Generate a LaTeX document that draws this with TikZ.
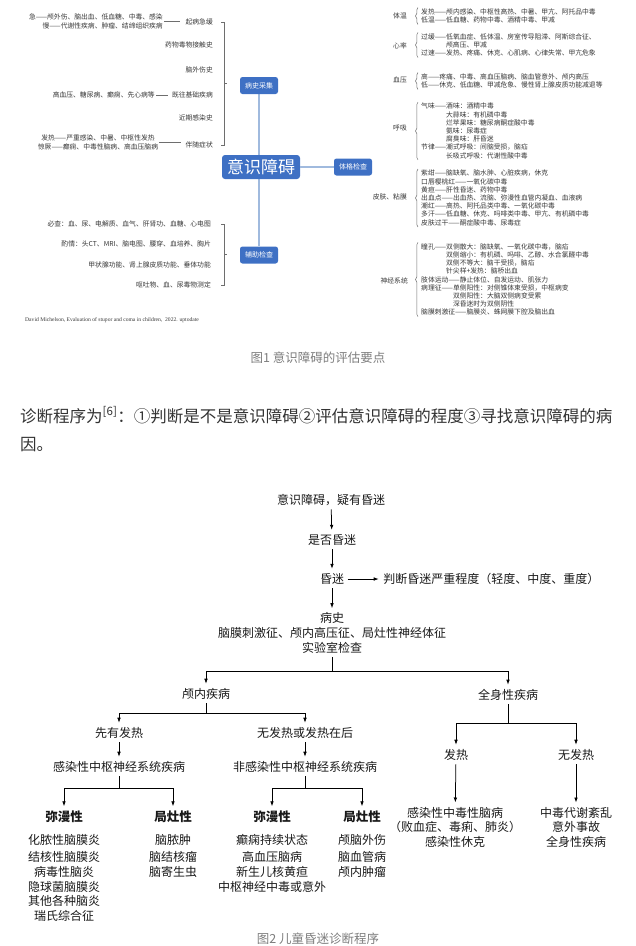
\documentclass[tikz,border=0pt]{standalone}
\usepackage{fontspec}
\setmainfont{Noto Sans CJK SC}
\newfontfamily\citefont{Liberation Serif}
\usetikzlibrary{arrows.meta,positioning,calc,backgrounds,decorations.pathreplacing}
\definecolor{mapblue}{RGB}{62,112,196}
\definecolor{mapline}{RGB}{160,186,222}
\definecolor{maptext}{RGB}{55,55,55}
\definecolor{mapgray}{RGB}{110,110,110}
\definecolor{captgray}{RGB}{125,125,125}
\definecolor{bodytext}{RGB}{51,51,51}
\definecolor{flowtext}{RGB}{25,25,25}
\newcommand{\mmfont}{\fontsize{6.8}{8.2}\selectfont}
\newcommand{\flfont}{\fontsize{12}{14.6}\selectfont}

\begin{document}
\begin{tikzpicture}[
  x=1pt,y=-1pt,
  hub/.style={fill=mapblue,rounded corners=3pt,text=white,font=\fontsize{17}{17}\selectfont,minimum width=78pt,minimum height=24pt,inner sep=0pt},
  branch/.style={fill=mapblue,rounded corners=2.5pt,text=white,font=\fontsize{7}{7}\selectfont,minimum width=38pt,minimum height=17pt,inner sep=0pt},
  leaf/.style={text=maptext,font=\mmfont,inner sep=1pt,align=left},
  link/.style={draw=mapline,line width=1.1pt},
  brk/.style={draw=mapgray,line width=0.5pt},
  brc/.style={draw=mapgray,line width=0.5pt,decorate,decoration={brace,amplitude=2.5pt}},
  flow/.style={text=flowtext,font=\flfont,align=center,inner sep=1.5pt},
  grp/.style={flow,font=\fontsize{12.5}{14}\selectfont\bfseries},
  capt/.style={text=captgray,font=\fontsize{12.5}{14}\selectfont,inner sep=0pt},
  arr/.style={-{Latex[length=5pt,width=3.6pt]},line width=0.75pt,shorten >=3pt,shorten <=2pt},
  ln/.style={line width=0.75pt,shorten <=2pt}
]
\useasboundingbox (0,0) rectangle (636,946);

% mind map
\node[hub] (mmcoma) at (261,167) {意识障碍};
\node[branch] (mmhist) at (259,85.5) {病史采集};
\node[branch] (mmexam) at (353,167) {体格检查};
\node[branch] (mmaux) at (259,255) {辅助检查};
\begin{scope}[on background layer]
\draw[link] (mmhist) -- (mmaux);
\end{scope}
\draw[link] (mmcoma) -- (mmexam);

\node[leaf,anchor=east] (onset) at (214,22) {起病急缓};
\node[leaf,anchor=east,align=right] (onsetd) at (164,21.5) {急——颅外伤、脑出血、低血糖、中毒、感染\\慢——代谢性疾病、肿瘤、结缔组织疾病};
\node[leaf,anchor=east] (drug) at (214,45) {药物毒物接触史};
\node[leaf,anchor=east] (trauma) at (214,70) {脑外伤史};
\node[leaf,anchor=east] (pmh) at (214,95) {既往基础疾病};
\node[leaf,anchor=east] (pmhd) at (156,95) {高血压、糖尿病、癫痫、先心病等};
\node[leaf,anchor=east] (infect) at (214,118) {近期感染史};
\node[leaf,anchor=east] (symp) at (214,145) {伴随症状};
\node[leaf,align=center] (sympd) at (98,142.5) {发热——严重感染、中暑、中枢性发热\\惊厥——癫痫、中毒性脑病、高血压脑病};
\draw[brk,shorten >=4pt] (onsetd.east) -- (onsetd.east -| onset.west);
\draw[brk,shorten >=3pt] (pmhd.east) -- (pmh.west);
\draw[brk,shorten >=3pt] (sympd.east) -- (sympd.east -| symp.west);
\draw[brk] ([xshift=7pt]onset.east) -- ++(3,0) |- ([xshift=7pt]symp.east);
\draw[brk] ($(onset.east)!0.5!(symp.east)+(10,0)$) -- ++(3,0);

\node[leaf,anchor=east] (aux1) at (212,224) {必查：血、尿、电解质、血气、肝肾功、血糖、心电图};
\node[leaf,anchor=east] (aux2) at (212,244) {酌情：头CT、MRI、脑电图、腰穿、血培养、胸片};
\node[leaf,anchor=east] (aux3) at (212,265) {甲状腺功能、肾上腺皮质功能、垂体功能};
\node[leaf,anchor=east] (aux4) at (212,285) {呕吐物、血、尿毒物测定};
\draw[brk] ([xshift=9pt]aux1.east) -- ++(3,0) |- ([xshift=9pt]aux4.east);
\draw[brk] ($(aux1.east)!0.5!(aux4.east)+(12,0)$) -- ++(3,0);

\node[anchor=west,inner sep=0pt,text=maptext,font=\citefont\fontsize{5.6}{6}\selectfont] (cite) at (25,320) {David Michelson, Evaluation of stupor and coma in children,\ \ 2022. uptodate};

\node[leaf,anchor=east] (temp) at (408,16) {体温};
\node[leaf,anchor=west] (tempd) at (420,16) {发热——颅内感染、中枢性高热、中暑、甲亢、阿托品中毒\\低温——低血糖、药物中毒、酒精中毒、甲减};
\node[leaf,anchor=east] (pulse) at (408,46) {心率};
\node[leaf,anchor=west] (pulsed) at (420,45) {过缓——低氧血症、低体温、房室传导阻滞、阿斯综合征、\\\hphantom{过缓——}颅高压、甲减\\过速——发热、疼痛、休克、心肌病、心律失常、甲亢危象};
\node[leaf,anchor=east] (bp) at (408,80) {血压};
\node[leaf,anchor=west] (bpd) at (420,81) {高——疼痛、中毒、高血压脑病、脑血管意外、颅内高压\\低——休克、低血糖、甲减危象、慢性肾上腺皮质功能减退等};
\node[leaf,anchor=east] (resp) at (408,128) {呼吸};
\node[leaf,anchor=west] (respd) at (420,131) {气味——酒味：酒精中毒\\\hphantom{气味——}大蒜味：有机磷中毒\\\hphantom{气味——}烂苹果味：糖尿病酮症酸中毒\\\hphantom{气味——}氨味：尿毒症\\\hphantom{气味——}腐臭味：肝昏迷\\节律——潮式呼吸：间脑受损，脑疝\\\hphantom{节律——}长吸式呼吸：代谢性酸中毒};
\node[leaf,anchor=east] (skin) at (408,197) {皮肤、粘膜};
\node[leaf,anchor=west] (skind) at (420,198) {紫绀——脑缺氧、脑水肿、心脏疾病，休克\\口唇樱桃红——一氧化碳中毒\\黄疸——肝性昏迷、药物中毒\\出血点——出血热、流脑、弥漫性血管内凝血、血液病\\潮红——高热、阿托品类中毒、一氧化碳中毒\\多汗——低血糖、休克、吗啡类中毒、甲亢、有机磷中毒\\皮肤过干——酮症酸中毒、尿毒症};
\node[leaf,anchor=east] (neuro) at (409,281) {神经系统};
\node[leaf,anchor=west] (neurod) at (420,279.5) {瞳孔——双侧散大：脑缺氧、一氧化碳中毒，脑疝\\\hphantom{瞳孔——}双侧缩小：有机磷、吗啡、乙醇、水合氯醛中毒\\\hphantom{瞳孔——}双侧不等大：脑干受损，脑疝\\\hphantom{瞳孔——}针尖样+发热：脑桥出血\\肢体运动——静止体位、自发运动、肌张力\\病理征——单侧阳性：对侧锥体束受损，中枢病变\\\hphantom{病理征——}双侧阳性：大脑双侧病变受累\\\hphantom{病理征——}深昏迷时为双侧阴性\\脑膜刺激征——脑膜炎、蛛网膜下腔及脑出血};
\foreach \d in {tempd,pulsed,bpd,respd,skind,neurod}
  \draw[brc] ([xshift=-2pt]\d.south west) -- ([xshift=-2pt]\d.north west);

% text
\node[capt] (cap1) at (318,358) {图1 意识障碍的评估要点};
\node[anchor=west,inner sep=0pt,text=bodytext,font=\fontsize{16.5}{20}\selectfont] (para1) at (20,415) {诊断程序为\textsuperscript{[6]}：①判断是不是意识障碍②评估意识障碍的程度③寻找意识障碍的病};
\node[anchor=west,inner sep=0pt,text=bodytext,font=\fontsize{16.5}{20}\selectfont] (para2) at (20,445) {因。};

% flow chart
\node[flow] (susp) at (331,500) {意识障碍，疑有昏迷};
\node[flow] (isc) at (332,540) {是否昏迷};
\node[flow] (cma) at (332,579) {昏迷};
\node[flow,right=36pt of cma] (grade) {判断昏迷严重程度（轻度、中度、重度）};
\node[flow] (work) at (332,633) {病史\\脑膜刺激征、颅内高压征、局灶性神经体征\\实验室检查};
\coordinate (j0) at (332,671);
\node[flow] (intra) at (206,694) {颅内疾病};
\node[flow] (sys) at (508,695) {全身性疾病};
\coordinate (j1) at (206,713);
\node[flow] (fev) at (119,733) {先有发热};
\node[flow] (nofev) at (305,733) {无发热或发热在后};
\node[flow] (inf) at (119,767) {感染性中枢神经系统疾病};
\node[flow] (noninf) at (305,767) {非感染性中枢神经系统疾病};
\coordinate (j2) at (119,788);
\coordinate (j3) at (305,788);
\node[grp] (difa) at (64,817) {弥漫性};
\node[grp] (foca) at (173,817) {局灶性};
\node[grp] (difb) at (272,817) {弥漫性};
\node[grp] (focb) at (362,817) {局灶性};
\node[flow,anchor=north] (difal) at (64,832.5) {化脓性脑膜炎\\[3pt]结核性脑膜炎\\病毒性脑炎\\隐球菌脑膜炎\\其他各种脑炎\\瑞氏综合征};
\node[flow,anchor=north] (focal) at (173,832.5) {脑脓肿\\[3pt]脑结核瘤\\脑寄生虫};
\node[flow,anchor=north] (difbl) at (272,832.5) {癫痫持续状态\\[3pt]高血压脑病\\新生儿核黄疸\\中枢神经中毒或意外};
\node[flow,anchor=north] (focbl) at (362,832.5) {颅脑外伤\\[3pt]脑血管病\\颅内肿瘤};
\coordinate (j4) at (508,723);
\node[flow] (sfev) at (456,755) {发热};
\node[flow] (snofev) at (576,755) {无发热};
\node[flow,anchor=north] (sfevl) at (455,805.5) {感染性中毒性脑病\\（败血症、毒痢、肺炎）\\感染性休克};
\node[flow,anchor=north] (snofevl) at (576,805.5) {中毒代谢紊乱\\意外事故\\全身性疾病};

\draw[arr] (susp) -- (isc);
\draw[arr] (isc) -- (cma);
\draw[arr] (cma) -- (grade);
\draw[arr] (cma) -- (work);
\draw[ln] (work) -- (j0);
\draw[arr,shorten <=0pt] (j0) -| (intra);
\draw[arr,shorten <=0pt] (j0) -| (sys);
\draw[ln] (intra) -- (j1);
\draw[arr,shorten <=0pt] (j1) -| (fev);
\draw[arr,shorten <=0pt] (j1) -| (nofev);
\draw[arr] (fev) -- (inf);
\draw[arr] (nofev) -- (noninf);
\draw[ln] (inf) -- (j2);
\draw[ln] (noninf) -- (j3);
\draw[arr,shorten <=0pt] (j2) -| (difa);
\draw[arr,shorten <=0pt] (j2) -| (foca);
\draw[arr,shorten <=0pt] (j3) -| (difb);
\draw[arr,shorten <=0pt] (j3) -| (focb);
\draw[ln] (sys) -- (j4);
\draw[arr,shorten <=0pt] (j4) -| (sfev);
\draw[arr,shorten <=0pt] (j4) -| (snofev);
\draw[arr] (sfev) -- (sfevl);
\draw[arr] (snofev) -- (snofevl);

\node[capt] (cap2) at (318,939) {图2 儿童昏迷诊断程序};
\end{tikzpicture}
\end{document}
